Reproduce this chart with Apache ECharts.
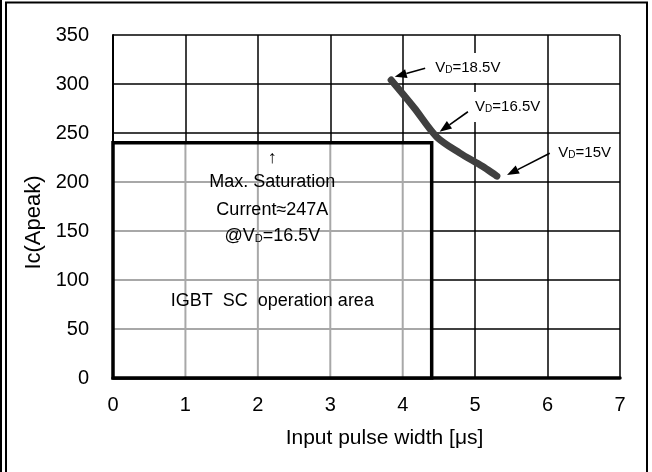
<!DOCTYPE html>
<html>
<head>
<meta charset="utf-8">
<script src="https://cdn.jsdelivr.net/npm/echarts@6/dist/echarts.min.js"></script>
<style>
  html, body { margin: 0; padding: 0; background: #fff; }
  #chart { width: 652px; height: 472px; }
</style>
</head>
<body>
<div id="chart"></div>
<script>
// Short-circuit withstand curve: peak collector current vs. input pulse width
const pulseWidthUs = [3.84, 4.16, 4.47, 4.79, 5.10, 5.30];
const peakCurrentA = [304, 275.5, 246, 229.5, 216, 206];

// Axis ticks
const xTicks = [0, 1, 2, 3, 4, 5, 6, 7];
const yTicks = [0, 50, 100, 150, 200, 250, 300, 350];

// IGBT short-circuit operation area (pulse width limit in µs, current limit in A)
const scAreaWidthUs = 4.4;
const scAreaCurrentA = 240;
const maxSatCurrentA = 247;
const maxSatGateVoltage = '16.5V';

// Gate-voltage callouts along the curve
const calloutVoltages = ['18.5V', '16.5V', '15V'];

const FONT = '"Liberation Sans", Arial, Helvetica, sans-serif';

// Arrow geometry for the callouts, in axis units: tail, tip, label anchor
const calloutGeometry = [
  { tail: [4.31, 316.0], tip: [3.89, 307.4], label: [4.38, 316.3] },
  { tail: [4.90, 271.7], tip: [4.51, 251.3], label: [4.93, 276.5] },
  { tail: [6.03, 229.3], tip: [5.44, 207.1], label: [6.08, 229.6] }
];

// Text blocks inside the operation area (axis units for centre points)
const areaText = [
  { y: 224.5, text: '↑' },
  { y: 200.3, text: 'Max. Saturation' },
  { y: 171.4, text: 'Current≈' + maxSatCurrentA + 'A' },
  { y: 144.9, rich: '@{v|V}{d|D}{v|=' + maxSatGateVoltage + '}' },
  { y: 78.9, text: 'IGBT  SC  operation area' }
];

function renderArea(params, api) {
  const p0 = api.coord([0, 0]);
  const p1 = api.coord([scAreaWidthUs, scAreaCurrentA]);
  const children = [];
  children.push({
    type: 'rect',
    shape: { x: p0[0], y: p1[1], width: p1[0] - p0[0], height: p0[1] - p1[1] },
    style: { fill: '#fff' }
  });
  xTicks.filter(v => v > 0 && v < scAreaWidthUs).forEach(v => {
    const a = api.coord([v, 0]), b = api.coord([v, scAreaCurrentA]);
    children.push({ type: 'line', shape: { x1: a[0], y1: a[1], x2: b[0], y2: b[1] },
      style: { stroke: '#a8a8a8', lineWidth: 2 } });
  });
  yTicks.filter(v => v > 0 && v < scAreaCurrentA).forEach(v => {
    const a = api.coord([0, v]), b = api.coord([scAreaWidthUs, v]);
    children.push({ type: 'line', shape: { x1: a[0], y1: a[1], x2: b[0], y2: b[1] },
      style: { stroke: '#a8a8a8', lineWidth: 2 } });
  });
  children.push({
    type: 'rect',
    shape: { x: p0[0], y: p1[1], width: p1[0] - p0[0], height: p0[1] - p1[1] },
    style: { fill: 'none', stroke: '#000', lineWidth: 3.5 }
  });
  areaText.forEach(t => {
    const c = api.coord([scAreaWidthUs / 2, t.y]);
    children.push({
      type: 'text', x: c[0], y: c[1],
      style: {
        text: t.rich || t.text,
        fontFamily: FONT, fontSize: 18, fill: '#000',
        align: 'center', verticalAlign: 'middle',
        rich: {
          v: { fontFamily: FONT, fontSize: 18, fill: '#000', lineHeight: 20 },
          d: { fontFamily: FONT, fontSize: 11, fill: '#000', lineHeight: 20, padding: [5, 0, 0, 0] }
        }
      }
    });
  });
  return { type: 'group', children };
}

function renderCallouts(params, api) {
  const g = calloutGeometry[params.dataIndex];
  const tail = api.coord(g.tail), tip = api.coord(g.tip), lab = api.coord(g.label);
  const dx = tip[0] - tail[0], dy = tip[1] - tail[1];
  const len = Math.sqrt(dx * dx + dy * dy);
  const ux = dx / len, uy = dy / len;
  const headL = 12, headW = 4.5;
  const bx = tip[0] - ux * headL, by = tip[1] - uy * headL;
  const nx = -uy, ny = ux;
  return {
    type: 'group',
    children: [
      { type: 'line', shape: { x1: tail[0], y1: tail[1], x2: bx, y2: by },
        style: { stroke: '#000', lineWidth: 1.6 } },
      { type: 'polygon', shape: { points: [tip, [bx + nx * headW, by + ny * headW], [bx - nx * headW, by - ny * headW]] },
        style: { fill: '#000' } },
      { type: 'text', x: lab[0], y: lab[1],
        style: {
          text: '{v|V}{d|D}{v|=' + calloutVoltages[params.dataIndex] + '}',
          align: 'left', verticalAlign: 'middle',
          backgroundColor: '#fff', padding: [6, 5, 6, 5],
          rich: {
            v: { fontFamily: FONT, fontSize: 15, fill: '#000', lineHeight: 18 },
            d: { fontFamily: FONT, fontSize: 10, fill: '#000', lineHeight: 18, padding: [4, 0, 0, 0] }
          }
        } }
    ]
  };
}

const chart = echarts.init(document.getElementById('chart'), null, { renderer: 'canvas' });
chart.setOption({
  backgroundColor: '#fff',
  animation: false,
  grid: { left: 113, right: 32, top: 35, bottom: 94 },
  xAxis: {
    type: 'value', min: xTicks[0], max: xTicks[xTicks.length - 1], interval: 1,
    name: 'Input pulse width [μs]', nameLocation: 'middle', nameGap: 50,
    nameTextStyle: { fontFamily: FONT, fontSize: 21, color: '#000', padding: [0, 0, 0, 36] },
    axisLine: { show: true, lineStyle: { color: '#000', width: 3.5 } },
    axisTick: { show: false },
    axisLabel: { fontFamily: FONT, fontSize: 20, color: '#000', margin: 17 },
    splitLine: { show: true, lineStyle: { color: '#000', width: 1.5 } }
  },
  yAxis: {
    type: 'value', min: yTicks[0], max: yTicks[yTicks.length - 1], interval: 50,
    name: 'Ic(Apeak)', nameLocation: 'middle', nameGap: 64,
    nameTextStyle: { fontFamily: FONT, fontSize: 22, color: '#000', padding: [0, 32, 0, 0] },
    axisLine: { show: true, lineStyle: { color: '#000', width: 2 } },
    axisTick: { show: false },
    axisLabel: { fontFamily: FONT, fontSize: 20, color: '#000', margin: 24 },
    splitLine: { show: true, lineStyle: { color: '#000', width: 1.5 } }
  },
  graphic: [
    { type: 'line', shape: { x1: 1, y1: 0, x2: 1, y2: 472 }, style: { stroke: '#000', lineWidth: 2 } },
    { type: 'line', shape: { x1: 6, y1: 2, x2: 6, y2: 472 }, style: { stroke: '#000', lineWidth: 2 } },
    { type: 'line', shape: { x1: 5, y1: 2.5, x2: 648, y2: 2.5 }, style: { stroke: '#000', lineWidth: 2 } },
    { type: 'line', shape: { x1: 647, y1: 2, x2: 647, y2: 472 }, style: { stroke: '#000', lineWidth: 2 } }
  ],
  series: [
    {
      type: 'custom', name: 'SC operation area', z: 3, clip: false,
      renderItem: renderArea,
      data: [[scAreaWidthUs, scAreaCurrentA]],
      encode: { x: 0, y: 1 }
    },
    {
      type: 'line', name: 'Ic', z: 5,
      data: pulseWidthUs.map((x, i) => [x, peakCurrentA[i]]),
      smooth: 0.3, showSymbol: false, symbol: 'none',
      lineStyle: { color: '#404040', width: 7, cap: 'round', join: 'round' }
    },
    {
      type: 'custom', name: 'VD callouts', z: 6, clip: false,
      renderItem: renderCallouts,
      data: calloutGeometry.map(g => g.tail),
      encode: { x: 0, y: 1 }
    }
  ]
});
</script>
</body>
</html>
